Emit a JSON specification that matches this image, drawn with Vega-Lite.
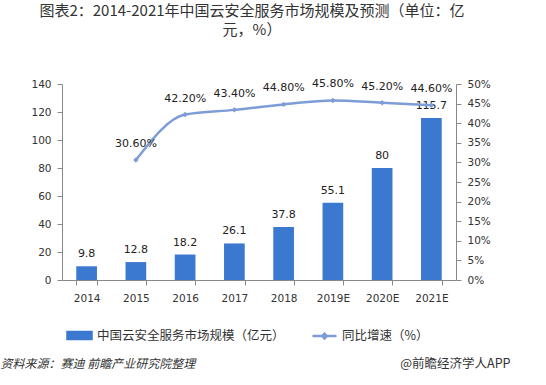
{
  "$schema": "https://vega.github.io/schema/vega-lite/v6.json",
  "width": 394,
  "height": 196,
  "autosize": {"type": "none"},
  "padding": {"left": 62, "top": 84, "right": 90, "bottom": 105},
  "background": "white",
  "config": {"view": {"stroke": null}},
  "title": {
    "text": ["图表2：2014-2021年中国云安全服务市场规模及预测（单位：亿", "元，%）"],
    "anchor": "middle",
    "font": "Noto Sans CJK SC",
    "fontSize": 15,
    "fontWeight": "normal",
    "color": "#333333",
    "lineHeight": 19,
    "offset": 40,
    "dx": -7
  },
  "data": {
    "values": [
      {"year": "2014", "size": 9.8, "growth": null},
      {"year": "2015", "size": 12.8, "growth": 0.306},
      {"year": "2016", "size": 18.2, "growth": 0.422},
      {"year": "2017", "size": 26.1, "growth": 0.434},
      {"year": "2018", "size": 37.8, "growth": 0.448},
      {"year": "2019E", "size": 55.1, "growth": 0.458},
      {"year": "2020E", "size": 80, "growth": 0.452},
      {"year": "2021E", "size": 115.7, "growth": 0.446}
    ]
  },
  "encoding": {
    "x": {
      "field": "year",
      "type": "nominal",
      "sort": null,
      "scale": {"paddingInner": 0.58, "paddingOuter": 0.29},
      "axis": {
        "labelAngle": 0,
        "labelFont": "DejaVu Sans",
        "labelFontSize": 10.5,
        "labelColor": "#333333",
        "labelPadding": 8,
        "domainColor": "#888888",
        "tickColor": "#888888",
        "tickSize": 5,
        "tickBand": "extent",
        "grid": false,
        "title": "资料来源：赛迪 前瞻产业研究院整理",
        "titleX": -62,
        "titleY": 83,
        "titleAlign": "left",
        "titleAnchor": null,
        "titleBaseline": "middle",
        "titleFont": "Noto Sans CJK SC",
        "titleFontSize": 12,
        "titleFontStyle": "italic",
        "titleFontWeight": "normal",
        "titleColor": "#333333"
      }
    }
  },
  "layer": [
    {
      "encoding": {
        "y": {
          "field": "size",
          "type": "quantitative",
          "scale": {"domain": [0, 140]},
          "axis": {
            "values": [0, 20, 40, 60, 80, 100, 120, 140],
            "grid": false,
            "title": null,
            "labelFont": "DejaVu Sans",
            "labelFontSize": 10.5,
            "labelColor": "#333333",
            "labelPadding": 6,
            "domainColor": "#888888",
            "tickColor": "#888888",
            "tickSize": 5
          }
        }
      },
      "layer": [
        {
          "mark": {"type": "bar"},
          "encoding": {
            "color": {
              "datum": "中国云安全服务市场规模（亿元）",
              "type": "nominal",
              "scale": {
                "domain": ["中国云安全服务市场规模（亿元）", "同比增速（%）"],
                "range": ["#3B78CF", "#7E9CD6"]
              },
              "legend": {
                "orient": "none",
                "legendX": 4,
                "legendY": 238,
                "direction": "horizontal",
                "title": null,
                "padding": 0,
                "labelFont": "Noto Sans CJK SC",
                "labelFontSize": 12.5,
                "labelColor": "#333333",
                "labelOffset": 4,
                "labelLimit": 400,
                "columnPadding": 22,
                "symbolSize": 576,
                "encode": {
                  "symbols": {
                    "update": {
                      "shape": {"signal": "datum.value === '中国云安全服务市场规模（亿元）' ? 'M-1,-0.29H1V0.29H-1Z' : 'M-1,0H1M-0.2,0L0,-0.2L0.2,0L0,0.2Z'"},
                      "fill": {"signal": "datum.value === '中国云安全服务市场规模（亿元）' ? '#3B78CF' : '#94A8D0'"},
                      "stroke": {"signal": "datum.value === '中国云安全服务市场规模（亿元）' ? 'transparent' : '#94A8D0'"},
                      "strokeWidth": {"value": 2.5},
                      "opacity": {"value": 1},
                      "fillOpacity": {"value": 1},
                      "strokeOpacity": {"value": 1}
                    }
                  }
                }
              }
            }
          }
        },
        {
          "mark": {"type": "text", "baseline": "middle", "dy": -12, "font": "DejaVu Sans", "fontSize": 11, "color": "#222222"},
          "encoding": {
            "text": {"field": "size", "type": "quantitative"}
          }
        }
      ]
    },
    {
      "transform": [{"filter": "datum.growth != null"}],
      "encoding": {
        "y": {
          "field": "growth",
          "type": "quantitative",
          "scale": {"domain": [0, 0.5]},
          "axis": {
            "orient": "right",
            "values": [0, 0.05, 0.1, 0.15, 0.2, 0.25, 0.3, 0.35, 0.4, 0.45, 0.5],
            "format": ".0%",
            "grid": false,
            "labelFont": "DejaVu Sans",
            "labelFontSize": 10.5,
            "labelColor": "#333333",
            "labelPadding": 6,
            "domainColor": "#888888",
            "tickColor": "#888888",
            "tickSize": 5,
            "title": "@前瞻经济学人APP",
            "titleAngle": 0,
            "titleX": 54,
            "titleY": 279,
            "titleAlign": "right",
            "titleAnchor": null,
            "titleBaseline": "middle",
            "titleFont": "Noto Sans CJK SC",
            "titleFontSize": 12.5,
            "titleFontWeight": "normal",
            "titleColor": "#333333"
          }
        }
      },
      "layer": [
        {
          "mark": {"type": "line", "interpolate": "monotone", "strokeWidth": 2.5, "point": {"shape": "diamond", "size": 30, "filled": true}},
          "encoding": {
            "color": {"datum": "同比增速（%）", "type": "nominal"}
          }
        },
        {
          "mark": {"type": "text", "baseline": "middle", "dy": -16, "font": "DejaVu Sans", "fontSize": 11, "color": "#222222"},
          "encoding": {
            "text": {"field": "growth", "type": "quantitative", "format": ".2%"}
          }
        }
      ]
    }
  ],
  "resolve": {"scale": {"y": "independent"}}
}
